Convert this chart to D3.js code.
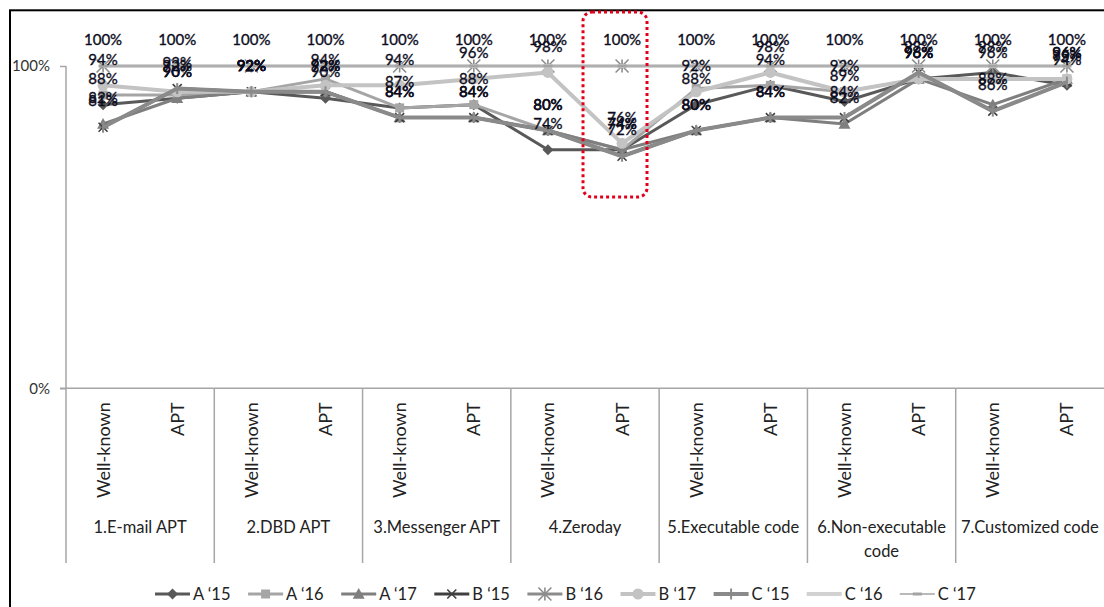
<!DOCTYPE html>
<html>
<head>
<meta charset="utf-8">
<script src="https://cdn.jsdelivr.net/npm/d3@7"></script>
<style>
  body { margin: 0; background: #fff; }
  svg { display: block; }
  text { font-family: Lato, "Open Sans", sans-serif; }
</style>
</head>
<body>
<svg id="chart" width="1104" height="607"></svg>
<script>
// ---- data ----
const groups = ["1.E-mail APT", "2.DBD APT", "3.Messenger APT", "4.Zeroday",
                "5.Executable code", "6.Non-executable code", "7.Customized code"];
const subTypes = ["Well-known", "APT"];
const seriesNames = ["A \u201815", "A \u201816", "A \u201817", "B \u201815", "B \u201816",
                     "B \u201817", "C \u201815", "C \u201816", "C \u201817"];

// detection rates (%) per point: group 1 WK, group 1 APT, group 2 WK, ...
const a15 = [88, 90, 92, 90, 87, 88, 74, 74, 88, 94, 89, 96, 98, 94];
const a16 = [91, 91, 92, 96, 87, 88, 80, 74, 93, 94, 92, 96, 96, 96];
const a17 = [82, 90, 92, 92, 84, 84, 80, 74, 80, 84, 82, 96, 88, 96];
const b15 = [81, 93, 92, 92, 84, 84, 80, 72, 80, 84, 84, 98, 86, 95];
const b16 = [100, 100, 100, 100, 100, 100, 100, 100, 100, 100, 100, 100, 100, 100];
const b17 = [94, 92, 92, 94, 94, 96, 98, 76, 92, 98, 92, 96, 96, 96];
const c15 = [81, 93, 92, 92, 84, 84, 80, 72, 80, 84, 84, 98, 86, 95];
const c16 = [100, 100, 100, 100, 100, 100, 100, 100, 100, 100, 100, 100, 100, 100];
const c17 = [100, 100, 100, 100, 100, 100, 100, 100, 100, 100, 100, 100, 100, 100];

const yTickValues = [0, 1];
// series whose points carry value labels
const labelledSeries = ["A \u201815", "A \u201817", "B \u201815", "B \u201817", "C \u201817"];

// ---- styles ----
const styles = [
  { color: "#595959", width: 3,   marker: "diamond",  size: 11 },
  { color: "#a5a5a5", width: 3,   marker: "square",   size: 9 },
  { color: "#7f7f7f", width: 3,   marker: "triangle", size: 12 },
  { color: "#3f3f3f", width: 3,   marker: "x",        size: 9 },
  { color: "#8c8c8c", width: 3,   marker: "asterisk", size: 13 },
  { color: "#c3c3c3", width: 4,   marker: "circle",   size: 11 },
  { color: "#8a8a8a", width: 4,   marker: "plus",     size: 11 },
  { color: "#d2d2d2", width: 4,   marker: "none",     size: 0 },
  { color: "#a3a3a3", width: 1.5, marker: "dash",     size: 9 }
];

const values = [a15, a16, a17, b15, b16, b17, c15, c16, c17];
const series = seriesNames.map((name, k) => ({
  name, style: styles[k],
  points: values[k].map((v, i) => ({ i, v: v / 100 }))
}));

// ---- layout ----
const svg = d3.select("#chart");
const plot = { left: 66, right: 1104, top: 66, bottom: 388.3 };

const x = d3.scaleBand().domain(d3.range(groups.length * subTypes.length))
  .range([plot.left, plot.right]);
const cx = i => x(i) + x.bandwidth() / 2;
const y = d3.scaleLinear().domain([0, 1]).range([plot.bottom, plot.top]);

const axisColor = "#a6a6a6";
const catBottom = 563;

// outer frame
svg.append("rect").attr("x", 10).attr("y", 10.3).attr("width", 1300).attr("height", 1300)
  .attr("fill", "none").attr("stroke", "#000").attr("stroke-width", 2);

// value axis
const yAxis = svg.append("g").attr("transform", `translate(${plot.left},0)`)
  .call(d3.axisLeft(y).tickValues(yTickValues).tickFormat(d3.format(".0%"))
    .tickSize(6).tickSizeOuter(0).tickPadding(10));
yAxis.select(".domain").remove();
yAxis.selectAll("line").attr("stroke", axisColor).attr("stroke-width", 1.5);
yAxis.selectAll("text").attr("font-size", 15).attr("fill", "#333")
  .attr("font-family", "Lato, sans-serif");
svg.append("line").attr("x1", plot.left).attr("x2", plot.left)
  .attr("y1", y(1)).attr("y2", catBottom)
  .attr("stroke", axisColor).attr("stroke-width", 1.5);

// category axis
const xAxis = svg.append("g").attr("transform", `translate(0,${plot.bottom})`)
  .call(d3.axisBottom(x).tickSize(0).tickFormat(i => subTypes[i % 2]));
xAxis.select(".domain").remove();
xAxis.selectAll("text")
  .attr("transform", "rotate(-90)")
  .attr("text-anchor", "end")
  .attr("x", -14).attr("y", 0).attr("dy", "0.36em")
  .attr("font-size", 18).attr("fill", "#222")
  .attr("font-family", "Lato, sans-serif");
svg.append("line").attr("x1", plot.left - 6).attr("x2", plot.right)
  .attr("y1", plot.bottom).attr("y2", plot.bottom)
  .attr("stroke", axisColor).attr("stroke-width", 1.5);

// group dividers and names
groups.forEach((g, k) => {
  const x0 = x(k * 2), x1 = x(k * 2 + 1) + x.bandwidth();
  if (k > 0) {
    svg.append("line").attr("x1", x0).attr("x2", x0)
      .attr("y1", plot.bottom).attr("y2", catBottom)
      .attr("stroke", axisColor).attr("stroke-width", 1.5);
  }
  const words = g === "6.Non-executable code" ? ["6.Non-executable", "code"] : [g];
  const t = svg.append("text").attr("x", (x0 + x1) / 2).attr("y", 527)
    .attr("text-anchor", "middle").attr("font-size", 16.5).attr("fill", "#222");
  words.forEach((w, j) => t.append("tspan").attr("x", (x0 + x1) / 2)
    .attr("dy", j === 0 ? "0.35em" : "1.45em").text(w));
});

// marker drawing
function drawMarker(sel, st) {
  const s = st.size / 2;
  switch (st.marker) {
    case "diamond":
      sel.append("path").attr("d", `M0,${-s}L${s},0L0,${s}L${-s},0Z`).attr("fill", st.color);
      break;
    case "square":
      sel.append("rect").attr("x", -s).attr("y", -s).attr("width", 2 * s).attr("height", 2 * s)
        .attr("fill", st.color);
      break;
    case "triangle":
      sel.append("path").attr("d", `M0,${-s}L${s},${s * 0.8}L${-s},${s * 0.8}Z`).attr("fill", st.color);
      break;
    case "x":
      sel.append("path").attr("d", `M${-s},${-s}L${s},${s}M${-s},${s}L${s},${-s}`)
        .attr("stroke", st.color).attr("stroke-width", 1.6).attr("fill", "none");
      break;
    case "asterisk":
      sel.append("path").attr("d", `M${-s},${-s}L${s},${s}M${-s},${s}L${s},${-s}M0,${-s}L0,${s}`)
        .attr("stroke", st.color).attr("stroke-width", 1.6).attr("fill", "none");
      break;
    case "circle":
      sel.append("circle").attr("r", s).attr("fill", st.color);
      break;
    case "plus":
      sel.append("path").attr("d", `M0,${-s}L0,${s}`)
        .attr("stroke", st.color).attr("stroke-width", 2).attr("fill", "none");
      break;
    case "dash":
      sel.append("path").attr("d", `M${-s},0L${s},0`)
        .attr("stroke", st.color).attr("stroke-width", 3).attr("fill", "none");
      break;
  }
}

// lines and markers
const line = d3.line().x(d => cx(d.i)).y(d => y(d.v));
series.forEach(s => {
  const g = svg.append("g");
  g.append("path").datum(s.points).attr("d", line)
    .attr("fill", "none").attr("stroke", s.style.color)
    .attr("stroke-width", s.style.width).attr("stroke-linejoin", "round");
  s.points.forEach(p => {
    const m = g.append("g").attr("transform", `translate(${cx(p.i)},${y(p.v)})`);
    drawMarker(m, s.style);
  });
});

// value labels above points
const pct = d3.format(".0%");
series.filter(s => labelledSeries.includes(s.name)).forEach(s => {
  svg.append("g").selectAll("text").data(s.points).join("text")
    .attr("x", d => cx(d.i)).attr("y", d => y(d.v) - 26)
    .attr("dy", "0.35em").attr("text-anchor", "middle")
    .attr("font-size", 15).attr("fill", "#0d0d1e")
    .attr("stroke", "#0d0d1e").attr("stroke-width", 0.35)
    .text(d => pct(d.v));
});

// highlight box around the zero-day APT column
svg.append("rect").attr("x", 583).attr("y", 12).attr("width", 64).attr("height", 185)
  .attr("rx", 9).attr("fill", "none").attr("stroke", "#e3001b")
  .attr("stroke-width", 3).attr("stroke-dasharray", "3,3");

// legend
const legend = svg.append("g").attr("transform", "translate(155,594)");
series.forEach((s, k) => {
  const g = legend.append("g").attr("transform", `translate(${k * 93.1},0)`);
  g.append("line").attr("x1", 0).attr("x2", 35).attr("y1", 0).attr("y2", 0)
    .attr("stroke", s.style.color).attr("stroke-width", s.style.width);
  const m = g.append("g").attr("transform", "translate(17.5,0)");
  drawMarker(m, s.style);
  g.append("text").attr("x", 38).attr("y", 0).attr("dy", "0.35em")
    .attr("font-size", 16.5).attr("fill", "#222").text(s.name);
});
</script>
</body>
</html>
